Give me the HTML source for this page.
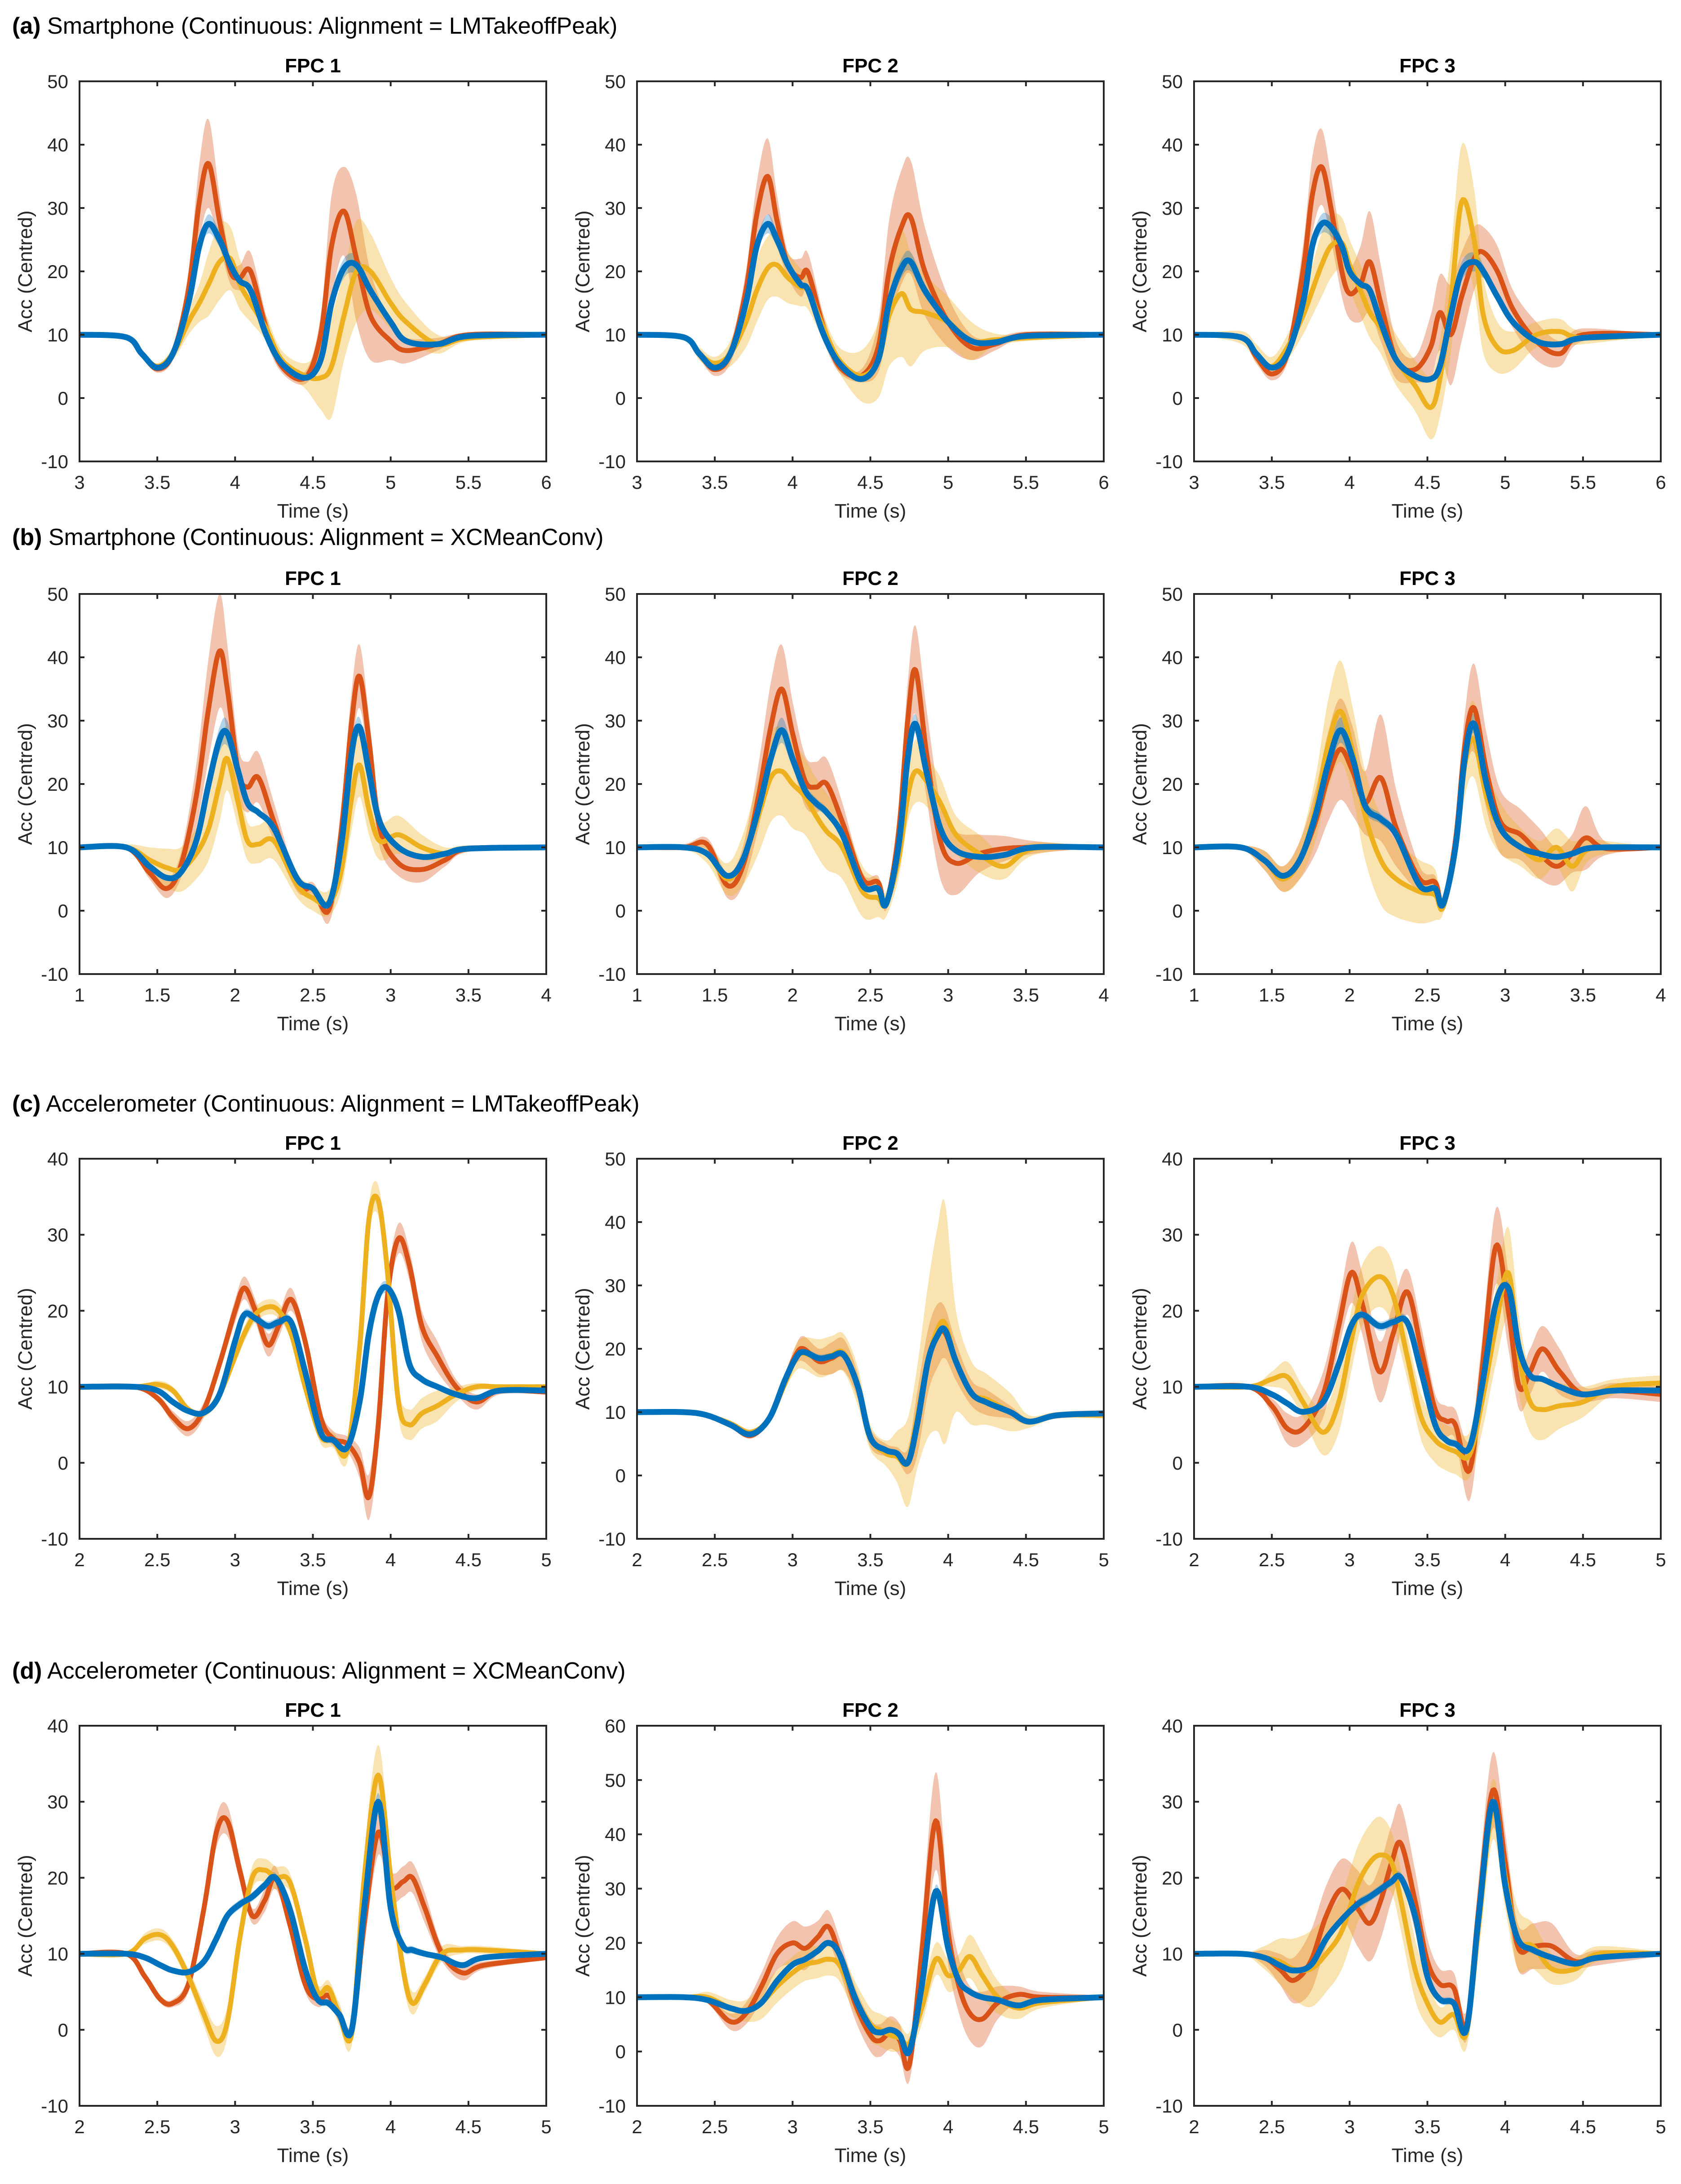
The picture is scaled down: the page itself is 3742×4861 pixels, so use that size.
<!DOCTYPE html>
<html><head><meta charset="utf-8">
<style>
html,body{margin:0;padding:0;background:#fff;}
svg{display:block;font-family:"Liberation Sans",Arial,sans-serif;}
</style></head>
<body>
<svg id="fig" width="3742" height="4861" viewBox="0 0 3742 4861" xmlns="http://www.w3.org/2000/svg">
<rect x="0" y="0" width="3742" height="4861" fill="#fff"/>
</svg>
<script>
// ---------- data (top-level arrays) ----------
const rowHeaders = ["Smartphone (Continuous: Alignment = LMTakeoffPeak)","Smartphone (Continuous: Alignment = XCMeanConv)","Accelerometer (Continuous: Alignment = LMTakeoffPeak)","Accelerometer (Continuous: Alignment = XCMeanConv)"];
const rowLetters = ["(a)","(b)","(c)","(d)"];
const panelTitles = ["FPC 1","FPC 2","FPC 3"];
const xRanges = [[3,6],[1,4],[2,5],[2,5]];
const yMaxes = [[50,50,50],[50,50,50],[40,50,40],[40,60,40]];

// a1
const a1_x=[3.0,3.3,3.4,3.5,3.6,3.7,3.77,3.83,3.9,3.97,4.03,4.1,4.2,4.3,4.45,4.55,4.62,4.7,4.78,4.87,5.0,5.1,5.3,5.5,6.0];
const a1_red=[10,9.6,7,4.6,7,17,31,37,28,20,19,20,11,5,3.2,10,24,29.5,22,13,9,7.5,8.5,10,10];
const a1_redS=[0,0.3,0.5,0.6,1,3,6,7,4,2,2,3,2,1,1,3,8,7,10,7,3,2,1,0.3,0];
const a1_yel=[10,9.6,7,5,7,12,15,18,21.5,22,18,15,11,6,3.5,3.2,5,13,20,20,15,12,8.5,9.5,10];
const a1_yelS=[0,0.3,0.5,0.5,1,2,3,5,6,5,4,3,2,1.5,2,5,8,7,8,6,4,3,1.5,0.5,0];
const a1_blu=[10,9.6,7,4.8,7,15,24,27.5,25,21,18.5,17,10,5.5,3.2,6,15,20.5,21,17,12,9,8.5,9.8,10];
const a1_bluS=[0,0,0,0.2,0.3,0.5,1,1.5,1.2,0.8,0.5,0.5,0.5,0.5,0.5,1,1.5,1.5,1.5,1,0.5,0.3,0.3,0.2,0];
// a2
const a2_x=[3.0,3.3,3.4,3.5,3.6,3.7,3.77,3.84,3.9,3.97,4.05,4.1,4.2,4.3,4.44,4.55,4.62,4.7,4.76,4.85,5.0,5.15,5.3,5.5,6.0];
const a2_red=[10,9.6,7,4.5,7,17,29,35,28,21,19,19.8,11,5,3.5,8,20,27,28.5,20,12,8,8.5,10,10];
const a2_redS=[0,0.3,0.8,1,1.5,3,5,6,4,2,3,3,2,1,1,4,8,9,9,7,4,2,1,0.5,0];
const a2_yel=[10,9.6,7,5.5,7,12,17,20.5,21,19,17.5,17,11,6,3.5,6,13,16.5,14,13.5,12,9,9.2,9.5,10];
const a2_yelS=[0,0.3,1,1,2,4,5,5,5,4,3,3,2,2,4,6,8,10,9,6,4,3,1,0.5,0];
const a2_blu=[10,9.6,7,4.8,7,15,24,27.5,25,21,18,17,10,5.5,3,6,15,20.5,21.5,17,12,9,8.8,9.8,10];
const a2_bluS=[0,0,0,0.2,0.3,0.5,1,1.5,1.2,0.8,0.5,0.5,0.5,0.5,0.5,1,1.5,1.5,1.5,1,0.5,0.3,0.3,0.2,0];
// a3
const a3_x=[3.0,3.3,3.4,3.5,3.6,3.7,3.76,3.82,3.88,3.95,4.0,4.07,4.13,4.2,4.3,4.42,4.52,4.58,4.65,4.72,4.8,4.86,4.95,5.05,5.2,5.35,5.5,6.0];
const a3_red=[10,9.6,6.5,3.8,7,20,32,36.5,30,20,16.5,18,21.5,15,6,4.5,8,13.5,10,16,22,23,20,14,9,7,10,10];
const a3_redS=[0,0.3,1,1,1.5,4,6,6,5,4,4,6,8,6,3,2,5,6,8,7,5,4,4,3,3,2,1,0];
const a3_yel=[10,9.6,7,5,8,13,17,21,24,24.5,21,17,13.5,11,6,2,-1.5,3,15,31,25,13,8,7.5,10,10.5,9.5,10];
const a3_yelS=[0,1,1.5,1.5,2,3,4,5,5,4,4,4,4,4,4,4,5,6,8,9,8,6,4,3,2,2,1,0];
const a3_blu=[10,9.6,7,4.8,7,15,24,27.5,27,24,20,18,17,12,6,3.5,3,5,13,20,21.5,20,16,12,9,8.5,9.5,10];
const a3_bluS=[0,0,0,0.2,0.3,0.5,1,1.5,1.5,1.2,0.8,0.5,0.5,0.5,0.5,0.5,0.5,0.8,1.5,1.5,1.5,1,0.5,0.3,0.3,0.2,0,0];
// b1
const b1_x=[1.0,1.3,1.45,1.56,1.65,1.75,1.83,1.9,1.95,2.02,2.08,2.15,2.25,2.4,2.5,2.6,2.68,2.75,2.8,2.86,2.93,3.05,3.2,3.35,3.5,4.0];
const b1_red=[10,10,6,3.5,7,18,32,41,35,22,19.5,21,14,4,3.5,0,12,30,37,27,13,7.5,6.5,8,9.8,10];
const b1_redS=[0,0.3,1,1.5,2,5,8,9,7,4,4,4,3,1,1,2,4,5,5,4,3,2,2,1,0.5,0];
const b1_yel=[10,10,8,6.8,6.5,9,13,20,24,17,11,10.5,11,4,2,1.2,6,18,23,16,11,12,10,9,9.8,10];
const b1_yelS=[0,0.5,2,3,3.5,4,5,6,5,4,3,3,3,2,2,2,3,5,5,4,3,3,2,1,0.5,0];
const b1_blu=[10,10,7,5.2,6,11,20,27,28,22,17,15.5,13,5,3.5,1,10,25,29,22,14,10,8.5,9,9.8,10];
const b1_bluS=[0,0,0.2,0.3,0.5,1,1.5,2,2,1,0.8,0.5,0.5,0.5,0.5,0.5,1,1.5,1.5,1,0.5,0.3,0.3,0.2,0,0];
// b2
const b2_x=[1.0,1.3,1.45,1.58,1.68,1.78,1.86,1.93,2.0,2.08,2.15,2.22,2.32,2.45,2.55,2.6,2.68,2.74,2.79,2.86,2.95,3.05,3.2,3.36,3.55,4.0];
const b2_red=[10,10,10.5,4,7,18,29,35,28,20.5,19.5,20,14,5,4.5,1,12,30,38,25,11,7.5,9,9.8,10,10];
const b2_redS=[0,0.5,1,2,3,5,7,7,5,4,4,4,3,1,1,1,4,6,7,7,6,5,3,2,1,0];
const b2_yel=[10,10,9,5,8,15,21,22,20,18,15,12.5,10,3,2,1,8,18,22,20.5,17,12,9,7,9.8,10];
const b2_yelS=[0,0.3,1.5,2.5,4,6,7,7,7,6,6,6,5,4,3,2,3,4,5,4,4,3,3,2,1,0];
const b2_blu=[10,10,9,5.5,8,16,24,28.5,24,19,17,15.5,12,4,3.5,1,10,24,29.5,22,13,9.5,8.5,8.8,10,10];
const b2_bluS=[0,0,0.2,0.3,0.5,1,1.5,2,1.5,1,0.8,0.7,0.5,0.5,0.5,0.5,1,1.5,1.5,1,0.5,0.3,0.3,0.2,0,0];
// b3
const b3_x=[1.0,1.3,1.45,1.57,1.68,1.78,1.86,1.94,2.02,2.1,2.2,2.3,2.45,2.55,2.6,2.68,2.74,2.8,2.88,2.97,3.1,3.22,3.33,3.43,3.52,3.65,4.0];
const b3_red=[10,10,8,5,8,14,21,25.5,22,17,21,13,5,4.5,1,11,26,32,22,14,12,9,7,9,11.5,9.8,10];
const b3_redS=[0,0.3,1.5,2,3,5,7,8,7,5,10,6,2,1,1,3,5,7,6,5,4,4,3,3,5,1,0];
const b3_yel=[10,10,8,5,8,16,26,31.5,25,15,8,5,3,2.5,0.5,10,23,27,18,13,10,8,10,7,9.5,10,10];
const b3_yelS=[0,0.3,1.5,2,3,5,7,8,7,7,7,6,5,4,1,3,5,6,5,4,3,3,3,4,2,1,0];
const b3_blu=[10,10,8,5.5,8,15,23,28.5,24,16.5,14.5,12,4,3.5,1,10,24,29.5,20,13,10,9,8.5,9,9.8,10,10];
const b3_bluS=[0,0,0.3,0.3,0.5,1,1.5,2,1.5,1,0.8,0.7,0.5,0.5,0.5,1,1.5,1.5,1,0.5,0.3,0.3,0.3,0.3,0.2,0,0];
// c1
const c1_x=[2.0,2.35,2.5,2.6,2.7,2.8,2.9,3.0,3.06,3.13,3.21,3.28,3.36,3.45,3.55,3.63,3.72,3.8,3.86,3.92,3.98,4.05,4.12,4.2,4.3,4.42,4.55,4.7,5.0];
const c1_red=[10,10,8.5,6,4.5,7,13,20,23,20,15.5,18,21.5,16,6,3.2,2.5,0,-4.5,5,22,29.5,26,18,14,10,8,9.5,9.3];
const c1_redS=[0,0,0.5,0.8,1,1,1,1.5,1.5,1.5,1.5,1.5,1.5,1,1,1,1,2,3,3,2,2,2,2,2,1,1,0.5,0.3];
const c1_yel=[10,10,10.3,9.5,7,6.5,9,14,17,19.5,20.5,20,17,10,3.5,3,1.5,15,32,34.5,25,8,5,6.5,7.5,9,10,10,10];
const c1_yelS=[0,0,0.5,0.5,0.5,0.5,0.8,1,1,1,1,1,1,1,1,1,1.5,2,2,2,2,2,2,2,2,1,0.5,0.3,0.3];
const c1_blu=[10,10,9.5,8,6.8,6.6,9,16,19.5,19,18,18.5,18.5,12,4,3,2,8,17,22,23,20,13,11,10,9,8.5,9.5,9.5];
const c1_bluS=[0,0,0.2,0.3,0.3,0.3,0.4,0.5,0.6,0.6,0.6,0.6,0.6,0.5,0.5,0.5,0.5,0.6,0.8,0.8,0.8,0.8,0.6,0.5,0.4,0.3,0.3,0.2,0.2];
// c2
const c2_x=[2.0,2.3,2.45,2.6,2.73,2.85,2.95,3.02,3.07,3.17,3.25,3.33,3.42,3.5,3.6,3.67,3.74,3.8,3.87,3.93,3.98,4.05,4.15,4.25,4.4,4.52,4.7,5.0];
const c2_red=[10,10,9.5,8,6.3,9,15,19,20,18,18.5,19,14,6,4,3.5,2.2,8,18,22,22.5,18,13,11.5,10,8.5,9.5,9.8];
const c2_redS=[0,0,0.3,0.5,0.5,0.5,1,1.5,2,2,2.5,2.5,2,1.5,1,1,2,5,5,5,4,3,2,2,1,0.5,0.5,0.5];
const c2_yel=[10,10,9.5,8.2,6.8,9,14.5,18.5,19.3,18.5,19,19.3,14,6,3.5,3,2,9,18,23,24,18,13,12,10,8.5,9.5,9.5];
const c2_yelS=[0,0,0.3,0.5,0.5,0.5,1,2,2.5,3,3,3,3,2,2,4,7,8,12,16,19,8,5,4,3,1,0.5,0.5];
const c2_blu=[10,10,9.5,8,6.5,9,15,18.5,19.5,18.5,18.8,19,14,6,4,3.5,2,8,18,22,23,18,13,11.5,10,8.5,9.5,9.8];
const c2_bluS=[0,0,0.2,0.3,0.3,0.3,0.4,0.5,0.6,0.6,0.6,0.6,0.5,0.5,0.5,0.5,0.5,0.6,0.8,0.8,0.8,0.6,0.5,0.4,0.3,0.3,0.2,0.2];
// c3
const c3_x=[2.0,2.35,2.5,2.6,2.7,2.83,2.93,3.01,3.08,3.19,3.28,3.37,3.46,3.55,3.62,3.68,3.77,3.85,3.94,4.02,4.09,4.16,4.24,4.35,4.5,4.7,5.0];
const c3_red=[10,10,7.5,4.5,4.5,9,18,25,21,12,17,22.5,15,7,5.5,5,-1,12,28.5,20,10,12,15,12,9,9.5,9];
const c3_redS=[0,0,1,2,2,3,3,4,4,4,4,3,3,2,2,2,4,4,5,5,3,3,3,3,1,1,1];
const c3_yel=[10,10,11,11.3,8,4,8,16,22,24.5,22,14,6,3,2,1.5,1,8,18,25,14,8,7,7.5,8,10,10.5];
const c3_yelS=[0,0,1,2,2,3,4,4,4,4,4,3,3,3,3,3,3,4,5,6,5,4,4,3,2,1,1];
const c3_blu=[10,10,9,7.8,6.7,8,13,18,19.5,18,18.5,18.5,12,5,3,2.5,2,10,21,23,15,11.5,11,10,9,9.5,9.5];
const c3_bluS=[0,0,0.2,0.3,0.3,0.3,0.4,0.5,0.6,0.6,0.6,0.6,0.5,0.5,0.5,0.5,0.5,0.6,0.8,0.8,0.6,0.5,0.4,0.3,0.3,0.2,0.2];
// d1
const d1_x=[2.0,2.3,2.42,2.52,2.6,2.7,2.8,2.88,2.95,3.03,3.11,3.19,3.26,3.35,3.45,3.53,3.6,3.67,3.75,3.83,3.92,4.0,4.08,4.14,4.22,4.33,4.46,4.6,5.0];
const d1_red=[10,10,7,4,3.5,6,16,26,27.5,21,15,17,20,14,6,4,4.5,2,0,14,26,19,19.5,20,16,10,7.5,8.5,9.5];
const d1_redS=[0,0,0.5,0.5,0.5,1,1.5,2,2,1.5,1,1.5,1.5,1,1,1,1,1,1,3,3,2,2,2,2,1,1,0.5,0.3];
const d1_yel=[10,10,12,12.5,11,7,2,-1.5,1,12,20,21,20,19.5,12,5,5.5,2,-0.5,20,33.5,20,8,3.5,6,10,10.5,10.5,10];
const d1_yelS=[0,0,0.7,0.8,0.8,1,1.5,2,2,1.5,1.5,1.5,1.5,1.2,1,1,1,1.5,1.5,3,4,3,2,1.5,1,1,0.5,0.5,0.3];
const d1_blu=[10,10,9.5,8.5,7.8,7.6,9,12,15,16.5,17.5,19,20,16,8,4,3.5,2,0,16,30,16,11,10.5,10,9.5,8.5,9.5,10];
const d1_bluS=[0,0,0.2,0.3,0.3,0.3,0.4,0.5,0.6,0.6,0.6,0.6,0.6,0.5,0.5,0.5,0.5,0.6,0.8,1,1.2,1,0.6,0.5,0.4,0.3,0.3,0.2,0.2];
// d2
const d2_x=[2.0,2.3,2.45,2.6,2.7,2.8,2.9,3.0,3.08,3.16,3.23,3.3,3.4,3.5,3.56,3.63,3.69,3.75,3.83,3.92,4.0,4.07,4.14,4.22,4.32,4.45,4.6,5.0];
const d2_red=[10,10,9.5,5.5,7,12,18,20,19,21,23,18,9,3,2,3.5,2,-2.5,18,42.5,22,12,7,6,9,10.5,10,10];
const d2_redS=[0,0,0.5,1.5,2,2.5,3,4,4,3,3,3,3,3,3,3,3,3,6,9,6,5,5,5,3,1.5,1,0.3];
const d2_yel=[10,10,10,8,7.5,9,12,14.5,16,16.5,17,16,10,5,4,3,2.5,1.5,8,17,14,15,17.5,14,10,8,9,10];
const d2_yelS=[0,0,1,1.5,2,3,3,3,3,3,3,3,3,3,3,3,2.5,2,3,3,3,3,4,4,3,2,1,0.3];
const d2_blu=[10,10,9.5,8,7.5,9,13,16,17,18.5,20,18,10,4.5,3.5,4,3,0,12,29.5,19,13,11,10,9.5,8.5,9.5,10];
const d2_bluS=[0,0,0.2,0.3,0.3,0.3,0.4,0.5,0.6,0.6,0.6,0.6,0.5,0.5,0.5,0.5,0.5,0.6,0.8,1.2,1,0.6,0.5,0.4,0.3,0.3,0.2,0.2];
// d3
const d3_x=[2.0,2.3,2.45,2.55,2.64,2.75,2.85,2.95,3.05,3.13,3.2,3.27,3.33,3.42,3.5,3.58,3.67,3.75,3.83,3.92,4.0,4.08,4.18,4.3,4.45,4.6,5.0];
const d3_red=[10,10,9.5,8,6.5,9,15,18.5,16,14,17,22,24.5,17,9,6,5.5,0.5,16,31.5,22,11,11,11,9,9.5,10];
const d3_redS=[0,0,1,2,3,4,4,4,5,5,5,5,5,4,3,2,2,2,4,5,4,3,3,3,1,1,0.3];
const d3_yel=[10,10,9.5,9,8,8,10,13,19,22,23,22,17,8,3.5,1,2,-0.5,14,29,20,12,11,8,8,10,10];
const d3_yelS=[0,0,1.5,3,4,5,5,5,5,5,5,4,4,4,3,2,2,2,4,4,4,4,3,2,1.5,1,0.3];
const d3_blu=[10,10,9.5,8.5,7.8,8.5,12,14.5,16.5,17.5,18.5,19.5,20,15,7,4,3.5,0,15,30,19,12,10.5,9.5,8.7,9.5,10];
const d3_bluS=[0,0,0.2,0.3,0.3,0.3,0.4,0.5,0.6,0.6,0.6,0.6,0.6,0.5,0.5,0.5,0.5,0.6,0.8,1.2,1,0.6,0.5,0.4,0.3,0.2,0.2];

const panels = [
 [[a1_x,a1_red,a1_redS,a1_yel,a1_yelS,a1_blu,a1_bluS],[a2_x,a2_red,a2_redS,a2_yel,a2_yelS,a2_blu,a2_bluS],[a3_x,a3_red,a3_redS,a3_yel,a3_yelS,a3_blu,a3_bluS]],
 [[b1_x,b1_red,b1_redS,b1_yel,b1_yelS,b1_blu,b1_bluS],[b2_x,b2_red,b2_redS,b2_yel,b2_yelS,b2_blu,b2_bluS],[b3_x,b3_red,b3_redS,b3_yel,b3_yelS,b3_blu,b3_bluS]],
 [[c1_x,c1_red,c1_redS,c1_yel,c1_yelS,c1_blu,c1_bluS],[c2_x,c2_red,c2_redS,c2_yel,c2_yelS,c2_blu,c2_bluS],[c3_x,c3_red,c3_redS,c3_yel,c3_yelS,c3_blu,c3_bluS]],
 [[d1_x,d1_red,d1_redS,d1_yel,d1_yelS,d1_blu,d1_bluS],[d2_x,d2_red,d2_redS,d2_yel,d2_yelS,d2_blu,d2_bluS],[d3_x,d3_red,d3_redS,d3_yel,d3_yelS,d3_blu,d3_bluS]]
];

// ---------- layout ----------
const NS="http://www.w3.org/2000/svg";
const svg=document.getElementById('fig');
const colL=[177,1418,2658], AW=1039, AH=846;
const rowT=[181,1322,2579,3841];
const headerY=[75,1213,2474,3736];
const C={red:"#D95319",yel:"#EDB120",blu:"#0072BD"};
const TXT="#262626";

function el(tag,attrs,parent){const e=document.createElementNS(NS,tag);for(const k in attrs)e.setAttribute(k,attrs[k]);(parent||svg).appendChild(e);return e;}

function smooth(pts){ // Catmull-Rom densify
  const out=[];
  for(let i=0;i<pts.length-1;i++){
    const p0=pts[Math.max(0,i-1)],p1=pts[i],p2=pts[i+1],p3=pts[Math.min(pts.length-1,i+2)];
    for(let t=0;t<1;t+=0.1){
      const t2=t*t,t3=t2*t;
      const f=(a,b,c,d)=>0.5*((2*b)+(-a+c)*t+(2*a-5*b+4*c-d)*t2+(-a+3*b-3*c+d)*t3);
      out.push([f(p0[0],p1[0],p2[0],p3[0]),f(p0[1],p1[1],p2[1],p3[1])]);
    }
  }
  out.push(pts[pts.length-1]);return out;
}
function ptsStr(a){return a.map(p=>p[0].toFixed(1)+","+p[1].toFixed(1)).join(" ");}

for(let r=0;r<4;r++){
  const h=el('text',{x:27,y:headerY[r],'font-size':52,fill:'#000'});
  
  
  const b=el('tspan',{'font-weight':'bold'},h);b.textContent=rowLetters[r];
  const s=el('tspan',{},h);s.textContent=" "+rowHeaders[r];
  for(let c=0;c<3;c++){
    const L=colL[c],T=rowT[r],R=L+AW,B=T+AH;
    const [x0,x1]=xRanges[r];const ymin=-10,ymax=yMaxes[r][c];
    const sx=v=>L+(v-x0)/(x1-x0)*AW;
    const sy=v=>B-(v-ymin)/(ymax-ymin)*AH;
    const g=el('g',{});
    
    
    el('clipPath',{id:'cp'+r+c},g).appendChild(Object.assign(document.createElementNS(NS,'rect'),{}));
    const cr=g.lastChild.firstChild;cr.setAttribute('x',L);cr.setAttribute('y',T);cr.setAttribute('width',AW);cr.setAttribute('height',AH);
    const plot=el('g',{'clip-path':'url(#cp'+r+c+')'},g);
    const d=panels[r][c];const xs=d[0];
    const series=[["red",d[1],d[2]],["yel",d[3],d[4]],["blu",d[5],d[6]]];
    // bands
    for(const [nm,ys,ss] of series){
      const up=smooth(xs.map((x,i)=>[sx(x),sy(ys[i]+ss[i])]));
      const lo=smooth(xs.map((x,i)=>[sx(x),sy(ys[i]-ss[i])])).reverse();
      const band=el('polygon',{points:ptsStr(up.concat(lo)),fill:C[nm],'fill-opacity':nm==='blu'?0.3:0.35,stroke:'none'},plot);
      
      
    }
    for(const [nm,ys] of series){
      const line=el('polyline',{points:ptsStr(smooth(xs.map((x,i)=>[sx(x),sy(ys[i])]))),fill:'none',stroke:C[nm],'stroke-width':nm==='blu'?13:11,'stroke-linejoin':'round','stroke-linecap':'round'},plot);
      
      
    }
    // axes box
    const box=el('rect',{x:L,y:T,width:AW,height:AH,fill:'none',stroke:TXT,'stroke-width':4},g);
    
    
    // x ticks
    for(let v=x0;v<=x1+1e-9;v+=0.5){
      const X=sx(v);
      el('line',{x1:X,y1:B,x2:X,y2:B-11,stroke:TXT,'stroke-width':4},g);
      el('line',{x1:X,y1:T,x2:X,y2:T+11,stroke:TXT,'stroke-width':4},g);
      const t=el('text',{x:X,y:B+61,'font-size':42,fill:TXT,'text-anchor':'middle'},g);
      
      
      t.textContent=String(Math.round(v*10)/10);
    }
    for(let v=ymin;v<=ymax;v+=10){
      const Y=sy(v);
      el('line',{x1:L,y1:Y,x2:L+11,y2:Y,stroke:TXT,'stroke-width':4},g);
      el('line',{x1:R,y1:Y,x2:R-11,y2:Y,stroke:TXT,'stroke-width':4},g);
      const t=el('text',{x:L-25,y:Y+15,'font-size':42,fill:TXT,'text-anchor':'end'},g);
      
      
      t.textContent=String(v);
    }
    const tt=el('text',{x:L+AW/2,y:T-20,'font-size':44,'font-weight':'bold',fill:'#000','text-anchor':'middle'},g);
    
    
    tt.textContent=panelTitles[c];
    const xl=el('text',{x:L+AW/2,y:B+125,'font-size':44,fill:TXT,'text-anchor':'middle'},g);
    
    
    xl.textContent="Time (s)";
    const yl=el('text',{x:0,y:0,'font-size':44,fill:TXT,'text-anchor':'middle',transform:`translate(${L-106},${T+AH/2}) rotate(-90)`},g);
    
    
    yl.textContent="Acc (Centred)";
  }
}
</script>
</body></html>
